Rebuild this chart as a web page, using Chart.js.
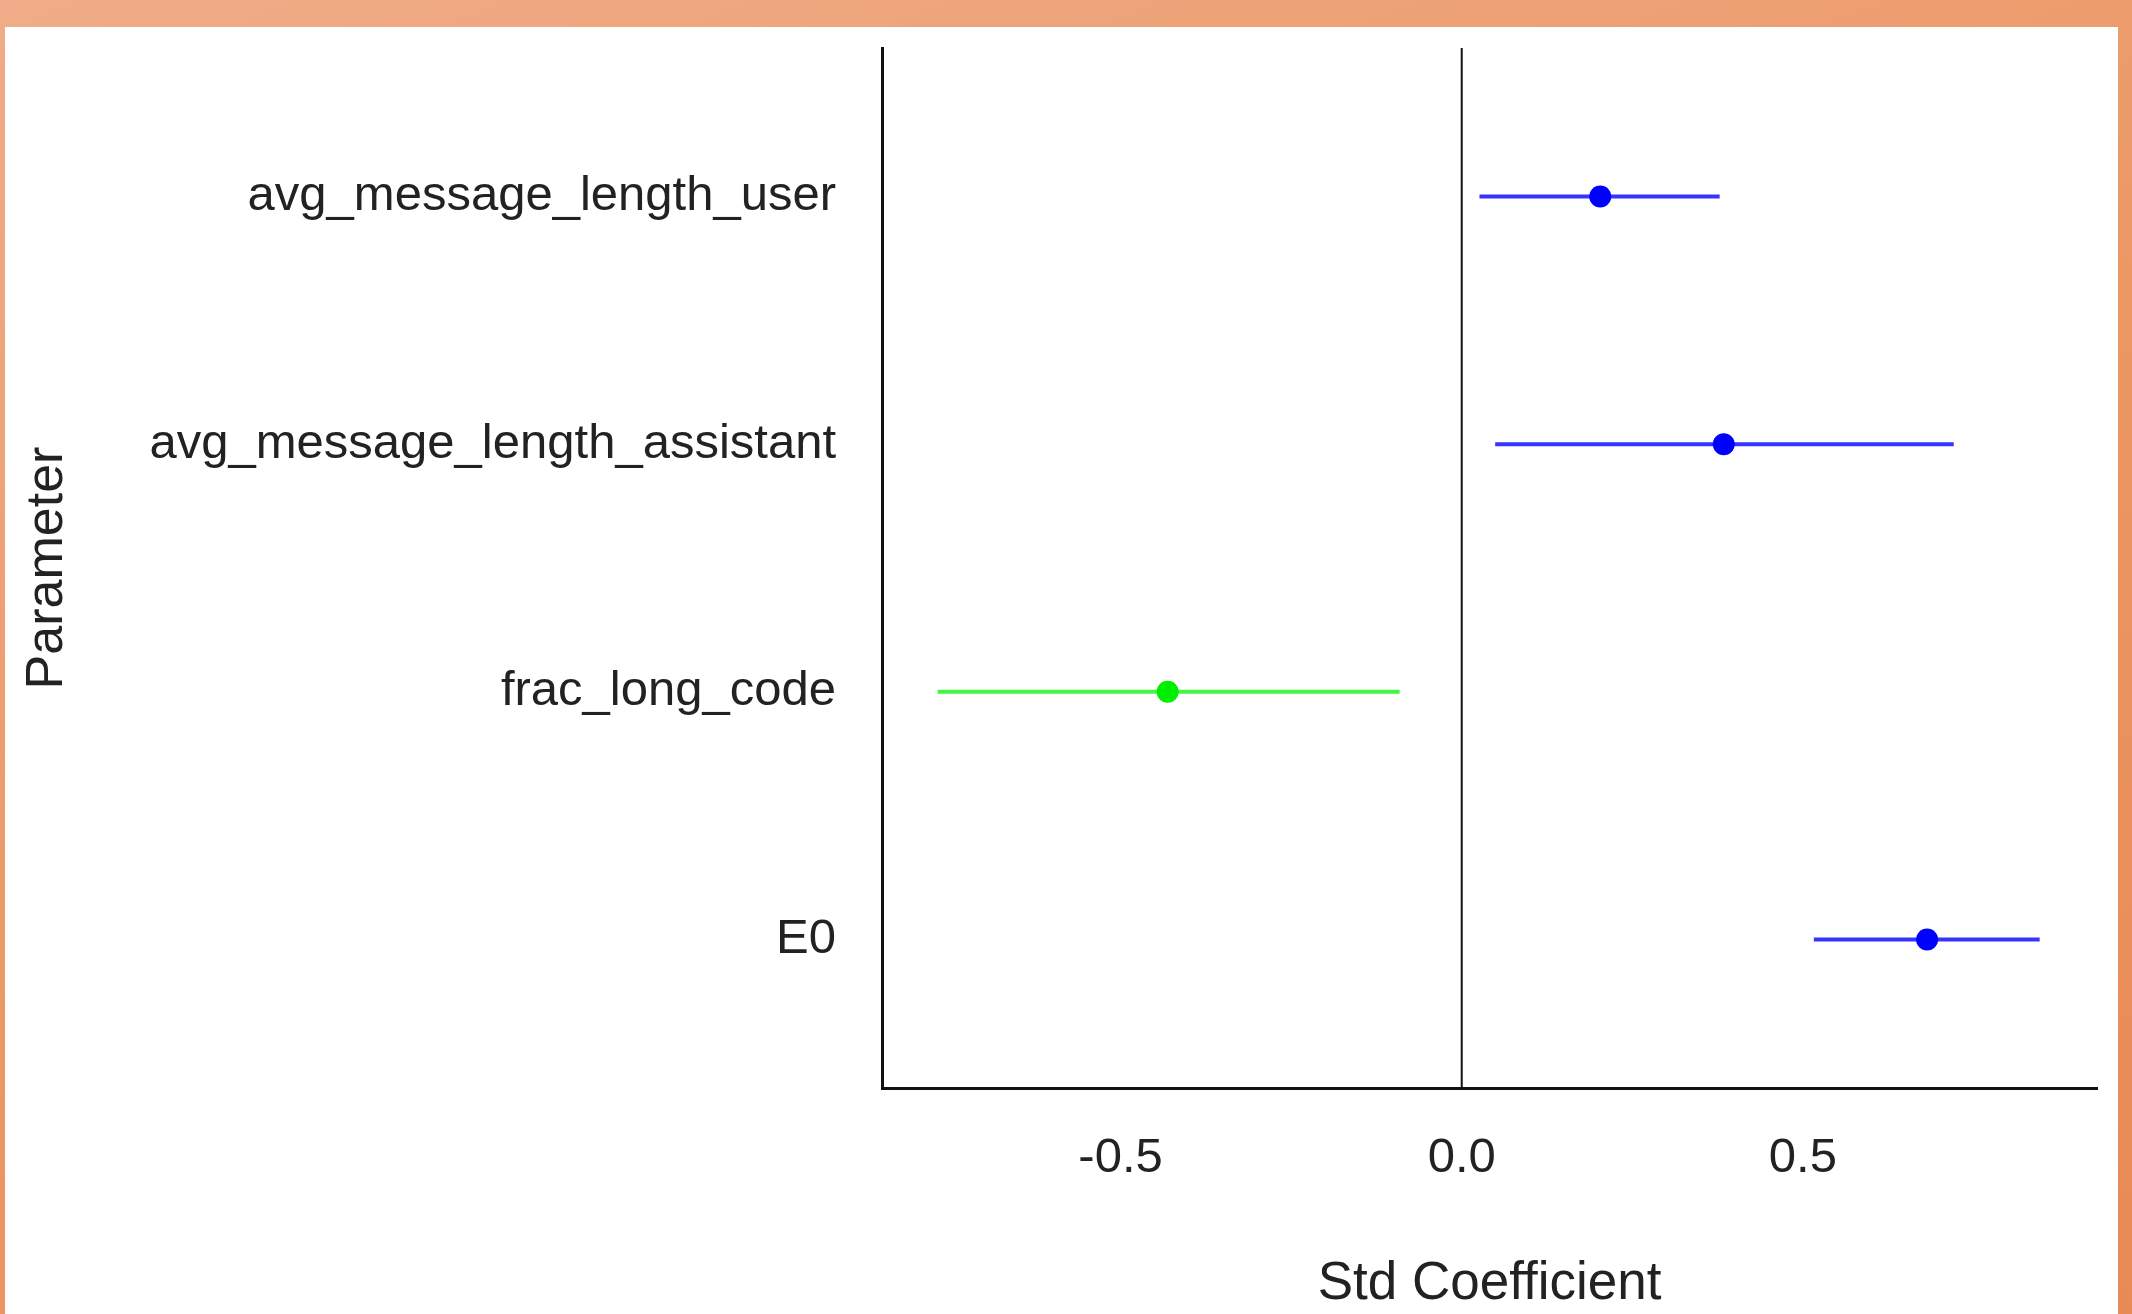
<!DOCTYPE html>
<html><head><meta charset="utf-8">
<script src="https://cdn.jsdelivr.net/npm/chart.js@4"></script>
<style>
html,body{margin:0;padding:0;width:2132px;height:1314px;overflow:hidden;background:linear-gradient(160deg,#f0ac88 0%,#eb9865 50%,#e88a56 100%);}
#panel{position:absolute;left:5px;top:27px;width:2113px;height:1287px;background:#fff;}
#wrap{position:absolute;left:0;top:0;width:2132px;height:1314px;}
</style></head><body>
<div id="panel"></div>
<div id="wrap"><canvas id="c" width="2132" height="1314"></canvas></div>
<script>
const parameters = ['avg_message_length_user','avg_message_length_assistant','frac_long_code','E0'];
const estimates = [0.203, 0.384, -0.431, 0.682];
const lowerCI = [0.026, 0.049, -0.768, 0.516];
const upperCI = [0.378, 0.721, -0.091, 0.847];
const pointColors = ['#0000ff','#0000ff','#00ee00','#0000ff'];
const lineColors = ['#3535ff','#3535ff','#44f544','#3535ff'];
const xTicks = [-0.5, 0.0, 0.5];

const n = parameters.length;
const yOf = i => n - i;
const FONT = "'Liberation Sans', Arial, sans-serif";
const TXT = '#222';

const datasets = [];
datasets.push({
  type:'scatter',
  data: parameters.map((p,i)=>({x:estimates[i], y:yOf(i)})),
  pointRadius:11, pointBorderWidth:0,
  pointBackgroundColor: pointColors, pointBorderColor: pointColors
});
parameters.forEach((p,i)=>{
  datasets.push({
    type:'line',
    data:[{x:lowerCI[i], y:yOf(i)},{x:upperCI[i], y:yOf(i)}],
    borderColor: lineColors[i], borderWidth:4, pointRadius:0, fill:false,
    borderCapStyle:'butt'
  });
});
datasets.push({
  type:'line',
  data:[{x:0,y:0.4},{x:0,y:4.6}],
  borderColor:'#111', borderWidth:2, pointRadius:0, fill:false
});

new Chart(document.getElementById('c'), {
  type:'scatter',
  data:{datasets},
  options:{
    responsive:false, animation:false,
    layout:{padding:{top:48,right:35,left:0,bottom:0}},
    plugins:{legend:{display:false}, tooltip:{enabled:false}},
    scales:{
      x:{
        type:'linear', min:-0.8496, max:0.931,
        afterBuildTicks: s => { s.ticks = xTicks.map(v=>({value:v})); },
        afterFit: s => { s.height = 226; s.paddingLeft = 0; s.paddingRight = 0; },
        grid:{display:false, drawTicks:false},
        border:{display:true, color:'#111', width:3},
        ticks:{font:{family:FONT, size:49}, color:TXT, padding:41,
               callback: v => Number(v).toFixed(1)},
        title:{display:true, text:'Std Coefficient', color:TXT,
               font:{family:FONT, size:53}, padding:{top:0,bottom:-2}}
      },
      y:{
        type:'linear', min:0.4, max:4.6,
        afterBuildTicks: s => { s.ticks = parameters.map((p,i)=>({value:yOf(i)})); },
        afterFit: s => { s.width = 882; s.paddingTop = 0; s.paddingBottom = 0; },
        grid:{display:false, drawTicks:false},
        border:{display:true, color:'#111', width:3},
        ticks:{font:{family:FONT, size:49}, color:TXT, padding:46,
               callback: v => parameters[n - v]},
        title:{display:true, text:'Parameter', color:TXT,
               font:{family:FONT, size:52}, padding:{top:16,bottom:0}}
      }
    }
  }
});
</script>
</body></html>
